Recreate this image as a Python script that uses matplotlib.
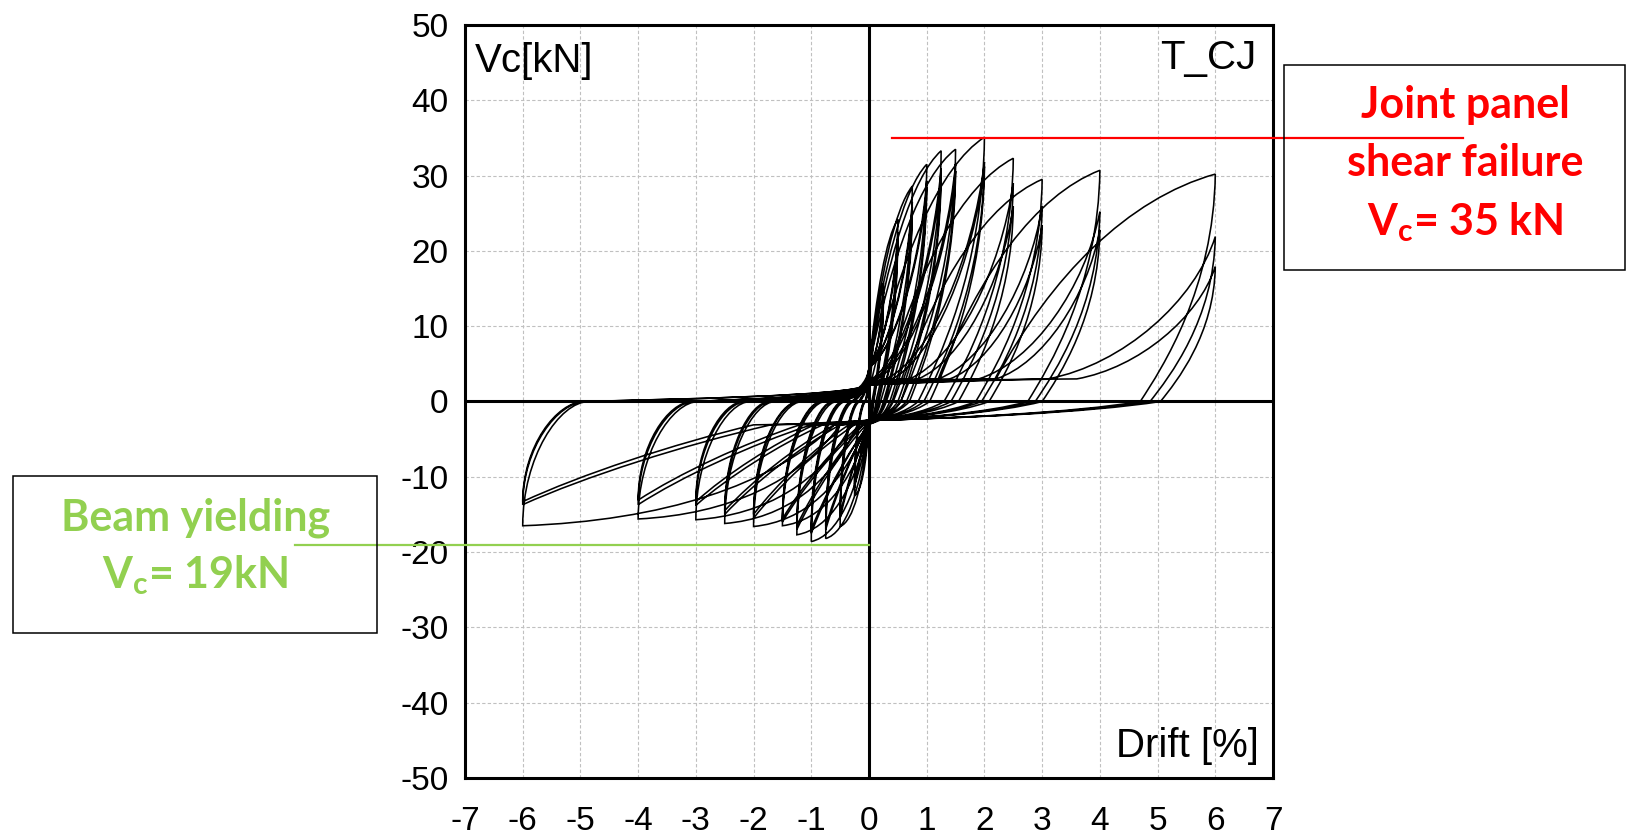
import matplotlib
matplotlib.use("Agg")
import matplotlib.pyplot as plt
from matplotlib.path import Path
from matplotlib.patches import PathPatch, Rectangle

plt.rcParams['font.family'] = ['Liberation Sans', 'DejaVu Sans']
plt.rcParams['mathtext.fontset'] = 'custom'
plt.rcParams['mathtext.rm'] = 'Lato:bold'
plt.rcParams['mathtext.it'] = 'Lato:bold'
plt.rcParams['mathtext.bf'] = 'Lato:bold'

# Loading protocol: drift amplitudes [%], three cycles at each amplitude
amplitudes = [0.25, 0.5, 0.75, 1.0, 1.25, 1.5, 2.0, 2.5, 3.0, 4.0, 6.0]

# Peak column shear per cycle [kN]
peak_pos = [[15.7, 14.5, 14.0], [24.2, 22.5, 21.8], [28.6, 26.5, 25.8],
            [31.5, 29.3, 28.5], [33.3, 31.0, 30.2], [33.5, 31.5, 30.6],
            [35.1, 31.8, 31.2], [32.3, 29.0, 25.9], [29.5, 25.9, 23.4],
            [30.7, 25.2, 22.8], [30.2, 21.9, 17.9]]
peak_neg = [[-12.5, -11.5, -11.0], [-16.6, -15.5, -15.0], [-18.2, -17.0, -16.5],
            [-18.6, -17.5, -17.0], [-17.7, -17.0, -16.5], [-16.5, -16.0, -15.6],
            [-16.6, -15.5, -15.0], [-16.2, -15.0, -14.5], [-15.7, -13.8, -13.3],
            [-15.6, -13.7, -13.1], [-16.5, -13.7, -13.3]]

# Drift where the unloading branch crosses zero shear [%]
zero_pos = [[0.05, 0.07, 0.08], [0.12, 0.15, 0.17], [0.20, 0.25, 0.28],
            [0.30, 0.36, 0.40], [0.42, 0.50, 0.55], [0.55, 0.65, 0.70],
            [0.85, 0.95, 1.05], [1.30, 1.42, 1.55], [1.85, 1.95, 2.08],
            [2.75, 2.88, 3.00], [4.70, 4.87, 5.05]]
zero_neg = [[-0.05, -0.06, -0.07], [-0.15, -0.17, -0.18], [-0.25, -0.28, -0.30],
            [-0.40, -0.43, -0.45], [-0.55, -0.60, -0.62], [-0.75, -0.80, -0.82],
            [-1.15, -1.20, -1.22], [-1.62, -1.68, -1.72], [-2.05, -2.12, -2.17],
            [-2.95, -3.02, -3.06], [-4.85, -4.90, -4.93]]

# Drift where reloading leaves the pinched plateau [%]
depart_pos = [[0, 0, 0], [0, 0, 0], [0, 0, 0], [0, 0, 0],
              [0, 0.05, 0.1], [0, 0.1, 0.15], [0.05, 0.3, 0.4],
              [0.3, 0.7, 0.85], [0.6, 1.2, 1.4], [1.2, 1.9, 2.2], [2.2, 3.1, 3.6]]
depart_neg = [[0, 0, 0], [0, 0, 0], [0, 0, 0], [0, 0, 0],
              [0, -0.05, -0.1], [0, -0.1, -0.15], [-0.05, -0.25, -0.35],
              [-0.2, -0.5, -0.6], [-0.3, -0.8, -0.95], [-0.5, -1.0, -1.2],
              [-0.6, -1.7, -2.0]]

JOINT_SHEAR = 35   # [kN]
BEAM_YIELD = -19   # [kN]

# Build the hysteresis as one bezier path
verts = [(0.0, 0.0)]
codes = [Path.MOVETO]


def curve(c1, c2, p3):
    verts.extend([c1, c2, p3])
    codes.extend([Path.CURVE4] * 3)


x0, y0 = 0.0, 0.0
for i, amp in enumerate(amplitudes):
    for k in range(3):
        fp, fn = peak_pos[i][k], peak_neg[i][k]
        zp, zn = zero_pos[i][k], zero_neg[i][k]
        xp, xn = depart_pos[i][k], depart_neg[i][k]

        # reloading along the pinched branch
        if not (i == 0 and k == 0):
            w = -x0
            yq = 4.5 if xp == 0 else 2.2
            curve((x0 + 0.3 * w, 0.15 * yq), (-0.08 * w, 0.3 * yq), (0.0, yq))
            x0, y0 = 0.0, yq
            if xp > 0:
                curve((0.3 * xp, 2.6), (0.7 * xp, 2.95), (xp, 3.0))
                x0, y0 = xp, 3.0

        # positive loading
        dx, dy = amp - x0, fp - y0
        if k == 0:
            c1, c2 = (x0 + 0.25 * dx, y0 + 0.5 * dy), (amp - 0.4 * dx, fp - 0.12 * dy)
        else:
            c1, c2 = (x0 + 0.45 * dx, y0 + 0.1 * dy), (amp - 0.12 * dx, fp - 0.45 * dy)
        curve(c1, c2, (amp, fp))

        # positive unloading
        w = amp - zp
        curve((amp - 0.02 * w, 0.5 * fp), (zp + 0.3 * w, 0.15 * fp), (zp, 0.0))

        # pinched branch towards negative side
        yq = -3.0 if xn == 0 else -2.5
        curve((0.75 * zp, 0.6 * yq), (0.3 * zp, 0.9 * yq), (0.0, yq))
        x0, y0 = 0.0, yq
        if xn < 0:
            curve((0.3 * xn, yq - 0.3), (0.7 * xn, -3.05), (xn, -3.1))
            x0, y0 = xn, -3.1

        # negative loading
        dx, dy = -amp - x0, fn - y0
        if k == 0:
            c1, c2 = (x0 + 0.2 * dx, y0 + 0.6 * dy), (-amp - 0.45 * dx, fn - 0.05 * dy)
        else:
            c1, c2 = (x0 + 0.35 * dx, y0 + 0.25 * dy), (-amp - 0.25 * dx, fn - 0.35 * dy)
        curve(c1, c2, (-amp, fn))

        # negative unloading
        w = zn + amp
        curve((-amp, 0.45 * fn), (zn - 0.45 * w, 0.0), (zn, 0.0))
        x0, y0 = zn, 0.0

fig = plt.figure(figsize=(16.27, 8.39), dpi=100)
ax = fig.add_axes([465 / 1627, 1 - 778 / 839, 808 / 1627, 753 / 839])

ax.add_patch(PathPatch(Path(verts, codes), fill=False, ec='black', lw=1.15, zorder=3))

ax.set_xlim(-7, 7)
ax.set_ylim(-50, 50)
ax.set_xticks(range(-7, 8))
ax.set_yticks(range(-50, 51, 10))
ax.set_xticklabels([str(v) for v in range(-7, 8)])
ax.set_yticklabels([str(v) for v in range(-50, 51, 10)])
ax.tick_params(length=0, labelsize=24)
ax.tick_params(axis='x', pad=20)
ax.tick_params(axis='y', pad=12)
ax.grid(True, color='#c0c0c0', ls=(0, (3, 2)), lw=0.8)
ax.set_axisbelow(True)
for sp in ax.spines.values():
    sp.set_linewidth(2.2)
ax.axhline(0, color='black', lw=2.2, zorder=2)
ax.axvline(0, color='black', lw=2.2, zorder=2)

ax.text(0.012, 0.9376, 'Vc[kN]', transform=ax.transAxes, fontsize=29, va='baseline')
ax.text(0.980, 0.9416, 'T_CJ', transform=ax.transAxes, fontsize=29, va='baseline', ha='right')
ax.text(0.982, 0.028, 'Drift [%]', transform=ax.transAxes, fontsize=29, va='baseline', ha='right')

# failure / yielding markers
red = '#ff0000'
green = '#92d050'
ax.plot([0.4, 10.3], [JOINT_SHEAR, JOINT_SHEAR], color=red, lw=1.6, clip_on=False, zorder=5)
ax.plot([-9.95, 0], [BEAM_YIELD, BEAM_YIELD], color=green, lw=1.6, clip_on=False, zorder=5)

fig.add_artist(Rectangle((1284 / 1627, 1 - 270 / 839), 341 / 1627, 205 / 839,
                         transform=fig.transFigure, fill=False, ec='black', lw=1.1))
fig.add_artist(Rectangle((13 / 1627, 1 - 633 / 839), 364 / 1627, 157 / 839,
                         transform=fig.transFigure, fill=False, ec='black', lw=1.1))

bold = dict(family='Lato', weight='bold', fontsize=31, ha='center', va='baseline')
fig.text(0.9004, 1 - 118 / 839, 'Joint panel', color=red, **bold)
fig.text(0.9004, 1 - 176 / 839, 'shear failure', color=red, **bold)
fig.text(0.9004, 1 - 235 / 839, r'V$_{\mathrm{c}}$= %d kN' % JOINT_SHEAR, color=red, **bold)
fig.text(0.1199, 1 - 531 / 839, 'Beam yielding', color=green, **bold)
fig.text(0.1199, 1 - 588 / 839, r'V$_{\mathrm{c}}$= %dkN' % -BEAM_YIELD, color=green, **bold)

fig.savefig('out.png', dpi=100)
